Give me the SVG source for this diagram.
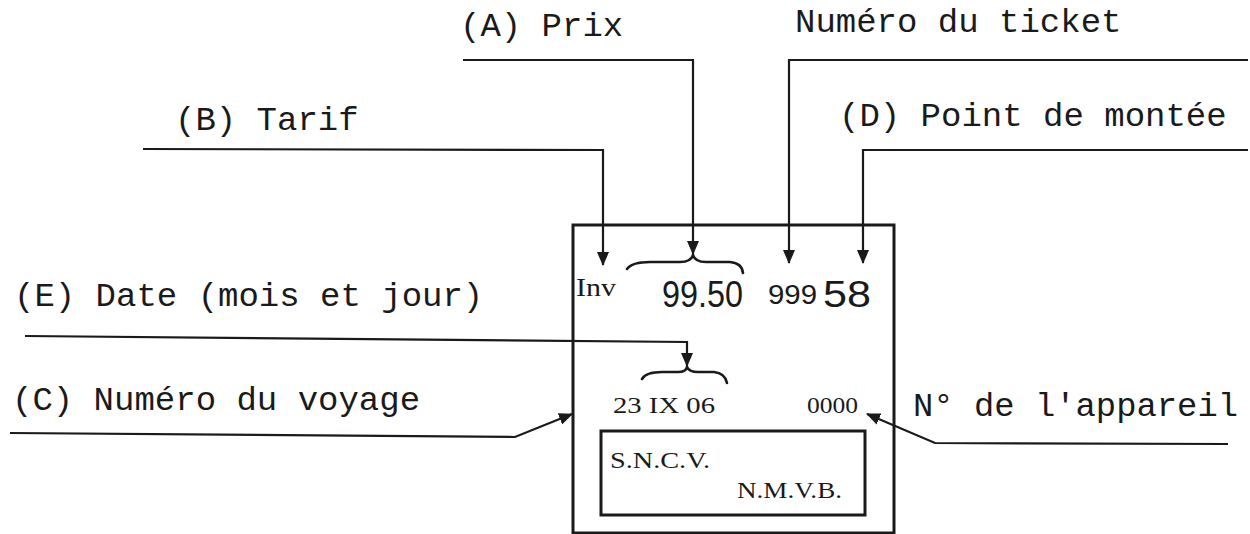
<svg xmlns="http://www.w3.org/2000/svg" width="1250" height="534" viewBox="0 0 1250 534">
<style>
.lbl{font-family:"Liberation Mono","Courier New",monospace;font-size:34px;fill:#1a1a1a}
.tk{font-family:"Liberation Serif","Times New Roman",serif;fill:#1a1a1a}
.num{font-family:"Liberation Sans",Arial,sans-serif;fill:#1a1a1a}
.ln{fill:none;stroke:#1a1a1a;stroke-width:2.2}
.box{fill:none;stroke:#1a1a1a;stroke-width:3}
.br{fill:none;stroke:#1a1a1a;stroke-width:2.6;stroke-linecap:round}
</style>
<defs>
<marker id="ah" viewBox="0 0 14 12" refX="13" refY="6" markerWidth="14" markerHeight="12" markerUnits="userSpaceOnUse" orient="auto">
<path d="M0,0 L14,6 L0,12 Z" fill="#1a1a1a"/>
</marker>
</defs>
<rect width="1250" height="534" fill="#ffffff"/>
<g id="ticket">
<rect class="box" x="573" y="225" width="321" height="308"/>
<rect class="box" x="601" y="431" width="264" height="84"/>
<text class="tk" x="576" y="296" font-size="25" textLength="40" lengthAdjust="spacingAndGlyphs">Inv</text>
<text class="num" x="662" y="307" font-size="36" textLength="81" lengthAdjust="spacingAndGlyphs">99.50</text>
<text class="num" x="768" y="304" font-size="28" textLength="49" lengthAdjust="spacingAndGlyphs">999</text>
<text class="num" x="823" y="307" font-size="36" textLength="48" lengthAdjust="spacingAndGlyphs">58</text>
<text class="tk" x="613" y="413" font-size="24" textLength="102" lengthAdjust="spacingAndGlyphs">23 IX 06</text>
<text class="tk" x="807" y="413" font-size="24" textLength="51" lengthAdjust="spacingAndGlyphs">0000</text>
<text class="tk" x="610" y="468" font-size="24" textLength="100" lengthAdjust="spacingAndGlyphs">S.N.C.V.</text>
<text class="tk" x="737" y="498" font-size="24" textLength="105" lengthAdjust="spacingAndGlyphs">N.M.V.B.</text>
<path class="br" d="M627,269 Q632,262 650,262 L680,262 Q691,262 693,255 Q695,262 706,262 L730,262 Q742,263 743,273"/>
<path class="br" d="M642,379 Q646,372 662,372 L678,372 Q686,372 687,367 Q689,372 698,372 L714,372 Q725,373 727,383"/>
</g>
<g id="label-a"><text class="lbl" x="460" y="36">(A) Prix</text></g>
<g id="label-ticket"><text class="lbl" x="795" y="32">Numéro du ticket</text></g>
<g id="label-b"><text class="lbl" x="175" y="130">(B) Tarif</text></g>
<g id="label-d"><text class="lbl" x="839" y="126">(D) Point de montée</text></g>
<g id="label-e"><text class="lbl" x="14" y="306">(E) Date (mois et jour)</text></g>
<g id="label-c"><text class="lbl" x="12" y="410">(C) Numéro du voyage</text></g>
<g id="label-n"><text class="lbl" x="913" y="416" textLength="325" lengthAdjust="spacingAndGlyphs">N° de l'appareil</text></g>
<g id="connectors">
<path class="ln" d="M463,60 L693,60 L693,254" marker-end="url(#ah)"/>
<path class="ln" d="M1248,60 L789,60 L789,263" marker-end="url(#ah)"/>
<path class="ln" d="M143,149 L603,150 L603,265" marker-end="url(#ah)"/>
<path class="ln" d="M1248,150 L863,150 L863,263" marker-end="url(#ah)"/>
<path class="ln" d="M25,336 L687,342 L687,366" marker-end="url(#ah)"/>
<path class="ln" d="M10,433 L515,437 L572,414" marker-end="url(#ah)"/>
<path class="ln" d="M1228,444 L935,443 L867,414" marker-end="url(#ah)"/>
</g>
</svg>
